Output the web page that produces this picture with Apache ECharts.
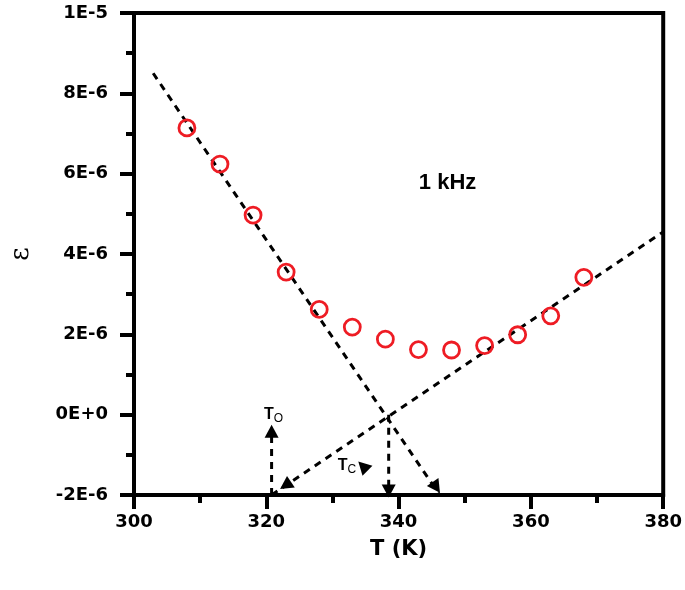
<!DOCTYPE html>
<html>
<head>
<meta charset="utf-8">
<script src="https://cdn.jsdelivr.net/npm/echarts@6/dist/echarts.min.js"></script>
<style>html,body{margin:0;padding:0;background:#fff;}#c{width:685px;height:590px;}</style>
</head>
<body>
<div id="c"></div>
<script>
// ---- data (epsilon values in units of 1e-6) ----
const temps = [308, 313, 318, 323, 328, 333, 338, 343, 348, 353, 358, 363, 368];
const eps = [7.14, 6.24, 4.97, 3.55, 2.62, 2.18, 1.88, 1.62, 1.61, 1.72, 1.99, 2.46, 3.42];
// dashed guide lines [T, eps]
const fitLow = [[302.9, 8.5], [346.2, -2.0]];
const fitHigh = [[320.8, -2.0], [380, 4.55]];
const tcDrop = [[338.5, 0.0], [338.5, -2.0]];
const toRise = [[320.8, -2.0], [320.8, -0.5]];
// arrow heads [T, eps, rotation]
const arrows = [[345.7, -1.81, -145.7], [322.9, -1.76, 123.6], [338.5, -1.9, 180], [320.8, -0.41, 0], [334.6, -1.28, 45]];
// annotation labels
const annots = [[321.1, 0.0, 'T', 'O'], [332.2, -1.28, 'T', 'C']];
const freqLabel = [[347.4, 5.77, '1 kHz']];
// tick labels
const xTicks = [300, 320, 340, 360, 380];
const yTickLabels = ['-2E-6', '0E+0', '2E-6', '4E-6', '6E-6', '8E-6', '1E-5'];

const chart = echarts.init(document.getElementById('c'), null, {renderer: 'canvas'});
const dash = {color: '#000', width: 3, type: [7, 6]};
const lineSeries = (d) => ({type: 'line', data: d, symbol: 'none', lineStyle: dash, silent: true, z: 2});
const axisFont = {fontFamily: 'DejaVu Sans', fontWeight: 'bold', fontSize: 18, color: '#000'};

chart.setOption({
  animation: false,
  backgroundColor: '#fff',
  grid: {left: 134, right: 21, top: 13, bottom: 95, show: true, borderColor: '#000', borderWidth: 4, containLabel: false},
  xAxis: {
    type: 'value', min: 300, max: 380, interval: 20,
    axisLine: {onZero: false, lineStyle: {color: '#000', width: 4}},
    axisTick: {length: 14, lineStyle: {width: 4, color: '#000'}},
    minorTick: {show: true, splitNumber: 2, length: 8, lineStyle: {width: 4, color: '#000'}},
    splitLine: {show: false},
    axisLabel: Object.assign({margin: 18, formatter: v => String(xTicks[Math.round((v - 300) / 20)])}, axisFont),
    name: 'T (K)', nameLocation: 'middle', nameGap: 44,
    nameTextStyle: {fontFamily: 'DejaVu Sans', fontWeight: 'bold', fontSize: 21, color: '#000'}
  },
  yAxis: {
    type: 'value', min: -2, max: 10, interval: 2,
    axisLine: {onZero: false, lineStyle: {color: '#000', width: 4}},
    axisTick: {length: 14, lineStyle: {width: 4, color: '#000'}},
    minorTick: {show: true, splitNumber: 2, length: 8, lineStyle: {width: 4, color: '#000'}},
    splitLine: {show: false},
    axisLabel: Object.assign({margin: 26, formatter: v => yTickLabels[Math.round((v + 2) / 2)]}, axisFont),
    name: 'ε', nameLocation: 'middle', nameGap: 100,
    nameTextStyle: {fontFamily: 'DejaVu Serif', fontSize: 26, color: '#000'}
  },
  series: [
    lineSeries(fitLow),
    lineSeries(fitHigh),
    lineSeries(tcDrop),
    lineSeries(toRise),
    {
      type: 'scatter', data: temps.map((t, i) => [t, eps[i]]), symbol: 'circle', symbolSize: 16, z: 3,
      itemStyle: {color: 'rgba(255,255,255,0)', borderColor: '#ee1c24', borderWidth: 2.8, opacity: 1}
    },
    {
      type: 'scatter', z: 4, silent: true,
      data: arrows.map(a => ({value: [a[0], a[1]], symbolRotate: a[2]})),
      symbol: 'triangle', symbolSize: [14, 13], itemStyle: {color: '#000', opacity: 1}
    },
    {
      type: 'scatter', z: 5, silent: true, symbolSize: 0, itemStyle: {opacity: 1},
      data: annots.map(a => ({value: [a[0], a[1]], name: a[2] + '|' + a[3]})),
      label: {
        show: true, position: 'inside',
        formatter: p => { const s = p.name.split('|'); return '{t|' + s[0] + '}{s|' + s[1] + '}'; },
        rich: {
          t: {fontFamily: 'Liberation Sans', fontSize: 16, color: '#000', fontWeight: 'bold'},
          s: {fontFamily: 'Liberation Sans', fontSize: 12, color: '#000', padding: [8, 0, 0, 0]}
        }
      }
    },
    {
      type: 'scatter', z: 5, silent: true, symbolSize: 0, itemStyle: {opacity: 1},
      data: freqLabel.map(a => ({value: [a[0], a[1]], name: a[2]})),
      label: {show: true, position: 'inside', formatter: p => p.name,
        fontFamily: 'Liberation Sans', fontWeight: 'bold', fontSize: 22, color: '#000'}
    }
  ]
});
</script>
</body>
</html>
